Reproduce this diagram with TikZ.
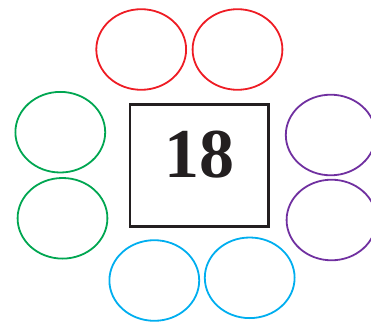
\documentclass[tikz,border=0pt]{standalone}
\usepackage{fontspec}
\setmainfont{Liberation Serif}
\usetikzlibrary{shapes.geometric}
\definecolor{ringred}{HTML}{EE1C24}
\definecolor{ringgreen}{HTML}{00A651}
\definecolor{ringpurple}{HTML}{7030A0}
\definecolor{ringblue}{HTML}{00AEEF}
\definecolor{boxline}{HTML}{231F20}
\tikzset{
  ring/.style={ellipse, draw=#1, line width=1.8pt, inner sep=0pt, minimum width=89.8pt, minimum height=80.6pt},
  sumbox/.style={draw=boxline, line width=2.8pt, inner sep=0pt, minimum width=138.5pt, minimum height=122pt},
  sumnum/.style={font=\fontsize{70}{70}\selectfont\bfseries, text=boxline, inner sep=0pt},
}

\begin{document}
\begin{tikzpicture}[x=1pt,y=-1pt]
  \useasboundingbox (0,0) rectangle (371,323);
  \node[sumbox] (box) at (199.3,165.6) {};
  \node[sumnum] (num) at (199.3,155) {18};
  \node[ring=ringred] (r1) at (141.2,49.5) {};
  \node[ring=ringred] (r2) at (237.5,49.5) {};
  \node[ring=ringgreen] (g1) at (60.3,132.2) {};
  \node[ring=ringgreen] (g2) at (62.5,218.3) {};
  \node[ring=ringpurple] (p1) at (330.7,135) {};
  \node[ring=ringpurple] (p2) at (331.5,220) {};
  \node[ring=ringblue] (b1) at (154.3,280.5) {};
  \node[ring=ringblue] (b2) at (249.7,277.8) {};
\end{tikzpicture}
\end{document}
